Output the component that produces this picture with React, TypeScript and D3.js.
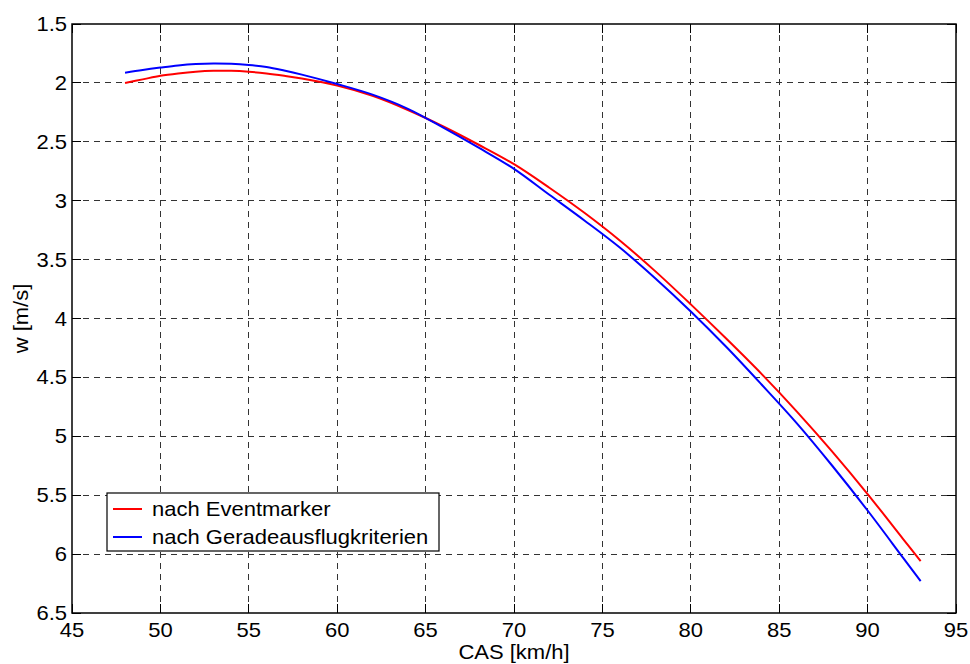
import React from "react";
import * as d3 from "d3";

const casRed = [48, 49, 50, 51, 52, 53, 54, 55, 56, 57, 58, 60, 62, 64, 66, 68, 70, 72, 74, 76, 78, 80, 82, 84, 86, 88, 90, 92, 93];
const wRed = [2.0, 1.97, 1.94, 1.92, 1.905, 1.897, 1.897, 1.905, 1.92, 1.94, 1.963, 2.023, 2.11, 2.23, 2.37, 2.525, 2.69, 2.89, 3.105, 3.34, 3.6, 3.88, 4.17, 4.47, 4.79, 5.13, 5.49, 5.87, 6.06];
const casBlue = [48, 49, 50, 51, 52, 53, 54, 55, 56, 57, 58, 60, 62, 64, 66, 68, 70, 72, 74, 76, 78, 80, 82, 84, 86, 88, 90, 92, 93];
const wBlue = [1.913, 1.89, 1.87, 1.852, 1.84, 1.835, 1.838, 1.848, 1.865, 1.895, 1.93, 2.01, 2.1, 2.22, 2.38, 2.55, 2.73, 2.95, 3.17, 3.4, 3.66, 3.94, 4.24, 4.56, 4.89, 5.25, 5.63, 6.03, 6.23];

const xTicks = [45, 50, 55, 60, 65, 70, 75, 80, 85, 90, 95];
const yTicks = [1.5, 2, 2.5, 3, 3.5, 4, 4.5, 5, 5.5, 6, 6.5];
const seriesNames = ["nach Eventmarker", "nach Geradeausflugkriterien"];
const seriesColors = ["#ff0000", "#0000ff"];

const W = 970;
const H = 664;
const L = 72, R = 956, T = 24, B = 613;
const FONT = "Arial, 'Liberation Sans', Helvetica, sans-serif";
const FS = 20;
const SX = 1.1;

function T2({ x, y, anchor, rot, children }: { x: number; y: number; anchor?: string; rot?: number; children: React.ReactNode }) {
  const tr = `translate(${x},${y})${rot ? ` rotate(${rot})` : ""} scale(${SX},1)`;
  return (
    <text transform={tr} textAnchor={anchor || "start"} fontSize={FS} fill="#000">
      {children}
    </text>
  );
}

export default function App() {
  const x = d3.scaleLinear().domain([45, 95]).range([L, R]);
  const y = d3.scaleLinear().domain([1.5, 6.5]).range([T, B]);
  const line = d3
    .line<[number, number]>()
    .x((d) => x(d[0]))
    .y((d) => y(d[1]))
    .curve(d3.curveCatmullRom.alpha(0.5));

  const red: [number, number][] = casRed.map((c, i) => [c, wRed[i]]);
  const blue: [number, number][] = casBlue.map((c, i) => [c, wBlue[i]]);
  const tickLen = 9;

  return (
    <svg
      width={W}
      height={H}
      style={{ position: "absolute", left: 0, top: 0, background: "#fff" }}
      fontFamily={FONT}
    >
      <rect x={0} y={0} width={W} height={H} fill="#fff" />
      <g stroke="#333" strokeWidth={1} strokeDasharray="6,5" shapeRendering="crispEdges">
        {xTicks.slice(1, -1).map((t) => (
          <line key={"gx" + t} x1={x(t)} x2={x(t)} y1={T} y2={B} />
        ))}
        {yTicks.slice(1, -1).map((t) => (
          <line key={"gy" + t} x1={L} x2={R} y1={y(t)} y2={y(t)} />
        ))}
      </g>
      <g stroke="#000" strokeWidth={1} shapeRendering="crispEdges">
        {xTicks.map((t) => (
          <g key={"tx" + t}>
            <line x1={x(t)} x2={x(t)} y1={B} y2={B - tickLen} />
            <line x1={x(t)} x2={x(t)} y1={T} y2={T + tickLen} />
          </g>
        ))}
        {yTicks.map((t) => (
          <g key={"ty" + t}>
            <line x1={L} x2={L + tickLen} y1={y(t)} y2={y(t)} />
            <line x1={R} x2={R - tickLen} y1={y(t)} y2={y(t)} />
          </g>
        ))}
      </g>
      <path d={line(red) || ""} fill="none" stroke={seriesColors[0]} strokeWidth={2} />
      <path d={line(blue) || ""} fill="none" stroke={seriesColors[1]} strokeWidth={2} />
      <rect x={L} y={T} width={R - L} height={B - T} fill="none" stroke="#000" strokeWidth={1.5} />
      {xTicks.map((t) => (
        <T2 key={"lx" + t} x={x(t)} y={B + 24} anchor="middle">
          {t}
        </T2>
      ))}
      {yTicks.map((t) => (
        <T2 key={"ly" + t} x={L - 5} y={y(t) + 7} anchor="end">
          {t}
        </T2>
      ))}
      <T2 x={(L + R) / 2} y={659} anchor="middle">
        CAS [km/h]
      </T2>
      <T2 x={28} y={(T + B) / 2} anchor="middle" rot={-90}>
        w [m/s]
      </T2>
      <g>
        <rect x={107} y={493} width={332} height={58} fill="#fff" stroke="#000" strokeWidth={1.2} />
        {seriesNames.map((n, i) => (
          <g key={n}>
            <line x1={113} x2={142} y1={509 + i * 28} y2={509 + i * 28} stroke={seriesColors[i]} strokeWidth={2} />
            <T2 x={152} y={516 + i * 28}>
              {n}
            </T2>
          </g>
        ))}
      </g>
    </svg>
  );
}
